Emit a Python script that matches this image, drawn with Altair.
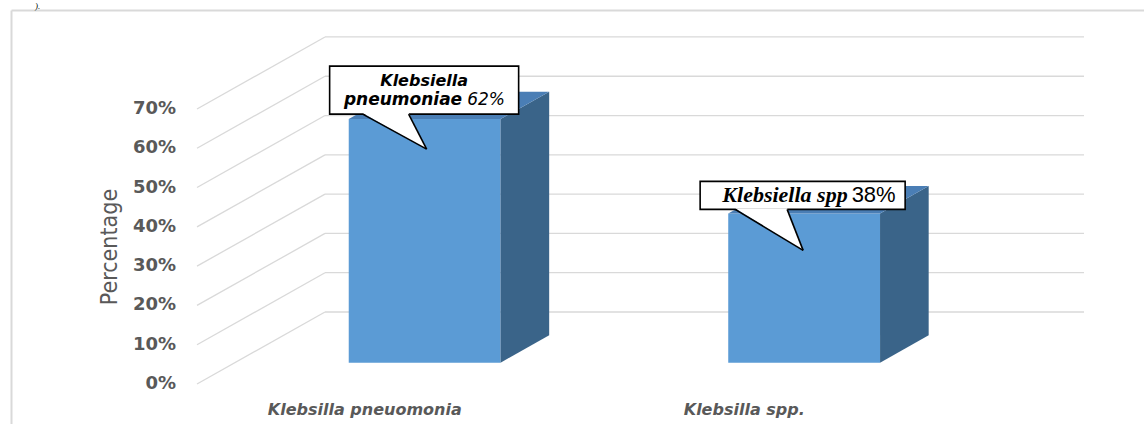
import altair as alt
import pandas as pd

# ---------------- data ----------------
categories = ["Klebsilla pneuomonia", "Klebsilla spp."]
values = [0.62, 0.38]
callout_bold_lines = [["Klebsiella", "pneumoniae"], ["Klebsiella spp"]]
callout_pct = ["62%", "38%"]
y_ticks = [0.0, 0.1, 0.2, 0.3, 0.4, 0.5, 0.6, 0.7]
y_tick_labels = ["0%", "10%", "20%", "30%", "40%", "50%", "60%", "70%"]
y_title = "Percentage"

# ---------------- layout / style ----------------
W, H = 1144, 424
FLOOR_W_PX = 759.0       # pixels per x unit (front floor edge width)
FLOOR_X0_PX = 197.0      # front-left corner of floor
ZERO_Y_PX = 384.0        # y pixel of 0% on the front plane
PX_PER_Y = 392.9         # pixels per 100%
DEPTH_PX = (128.0, 72.0) # full depth of the 3-D box (right, up)
F1, F2 = 0.296, 0.676    # bar front / back depth fractions
BAR_HALF = 0.10          # half bar width in x units

DX = DEPTH_PX[0] / FLOOR_W_PX
DY = DEPTH_PX[1] / PX_PER_Y

def px_x(p):   # pixel offset -> x units
    return p / FLOOR_W_PX

def px_y(p):   # downward pixel offset -> y units
    return -p / PX_PER_Y

xs = alt.Scale(domain=[-FLOOR_X0_PX / FLOOR_W_PX, (W - FLOOR_X0_PX) / FLOOR_W_PX], nice=False, zero=False)
ys = alt.Scale(domain=[(ZERO_Y_PX - H) / PX_PER_Y, ZERO_Y_PX / PX_PER_Y], nice=False, zero=False)

FRONT = "#5B9BD5"
SIDE = "#3A6489"
TOP = "#4A7EB5"
GRID = "#D9D9D9"
TEXT_GRAY = "#595959"

centers = [(i + 0.5) / len(categories) for i in range(len(categories))]

# ---------------- gridlines ----------------
grid_rows = []
for t in y_ticks:
    grid_rows.append({"x": 0.0, "x2": DX, "y": t, "y2": t + DY})          # side-wall diagonals
    grid_rows.append({"x": DX, "x2": 1.0 + DX, "y": t + DY, "y2": t + DY})  # back wall
grid = alt.Chart(pd.DataFrame(grid_rows)).mark_rule(color=GRID, strokeWidth=1.3).encode(
    x=alt.X("x:Q", scale=xs, axis=None), x2="x2:Q",
    y=alt.Y("y:Q", scale=ys, axis=None), y2="y2:Q")

# ---------------- bars (3-D) ----------------
front_rows, side_rows, top_rows = [], [], []
for i, (c, v) in enumerate(zip(categories, values)):
    u0, u1 = centers[i] - BAR_HALF, centers[i] + BAR_HALF
    front_rows.append({"bar": c, "x": u0 + F1 * DX, "x2": u1 + F1 * DX, "y": F1 * DY, "y2": v + F1 * DY})
    for f in (F1, F2):
        side_rows.append({"bar": c, "x": u1 + f * DX, "y": v + f * DY, "y2": f * DY})
        top_rows.append({"bar": c, "y": v + f * DY, "x": u0 + f * DX, "x2": u1 + f * DX})

front = alt.Chart(pd.DataFrame(front_rows)).mark_rect(color=FRONT).encode(
    x=alt.X("x:Q", scale=xs, axis=None), x2="x2:Q",
    y=alt.Y("y:Q", scale=ys, axis=None), y2="y2:Q")
side = alt.Chart(pd.DataFrame(side_rows)).mark_area(color=SIDE, orient="vertical").encode(
    x=alt.X("x:Q", scale=xs, axis=None),
    y=alt.Y("y:Q", scale=ys, axis=None), y2="y2:Q", detail="bar:N")
top = alt.Chart(pd.DataFrame(top_rows)).mark_area(color=TOP, orient="horizontal").encode(
    y=alt.Y("y:Q", scale=ys, axis=None),
    x=alt.X("x:Q", scale=xs, axis=None), x2="x2:Q", detail="bar:N")

# ---------------- callouts ----------------
# per-callout layout in pixels relative to the pointer tip
callout_layout = [
    {"tip_dx": 2, "tip_drop": 30, "box": (-97, 92, -83, -35), "base": (-64, -18)},
    {"tip_dx": -1, "tip_drop": 37, "box": (-103, 102, -69, -41), "base": (-68, -16)},
]
box_rows, tri_rows, edge_rows = [], [], []
tips = []
for i, (c, v) in enumerate(zip(categories, values)):
    L = callout_layout[i]
    tu = centers[i] + F1 * DX + px_x(L["tip_dx"])
    tv = v + F1 * DY + px_y(L["tip_drop"])
    tips.append((tu, tv))
    bx0, bx1, by0, by1 = L["box"]
    box_rows.append({"c": c, "x": tu + px_x(bx0), "x2": tu + px_x(bx1), "y": tv + px_y(by0), "y2": tv + px_y(by1)})
    a, b = L["base"]
    base_v = tv + px_y(by1)
    xa, xb = tu + px_x(a), tu + px_x(b)
    frac = (xb - xa) / (tu - xa)
    at_xb = base_v + (tv - base_v) * frac
    cover = px_y(-1.2)
    tri_rows += [
        {"c": c, "x": xa, "y": base_v + cover, "y2": base_v + cover},
        {"c": c, "x": xb, "y": base_v + cover, "y2": at_xb},
        {"c": c, "x": tu, "y": tv, "y2": tv},
    ]
    edge_rows += [
        {"x": xa, "y": base_v, "x2": tu, "y2": tv},
        {"x": xb, "y": base_v, "x2": tu, "y2": tv},
    ]

boxes = alt.Chart(pd.DataFrame(box_rows)).mark_rect(fill="white", stroke="black", strokeWidth=1.6).encode(
    x=alt.X("x:Q", scale=xs, axis=None), x2="x2:Q",
    y=alt.Y("y:Q", scale=ys, axis=None), y2="y2:Q")
tris = alt.Chart(pd.DataFrame(tri_rows)).mark_area(color="white", orient="vertical").encode(
    x=alt.X("x:Q", scale=xs, axis=None),
    y=alt.Y("y:Q", scale=ys, axis=None), y2="y2:Q", detail="c:N")
edges = alt.Chart(pd.DataFrame(edge_rows)).mark_rule(color="black", strokeWidth=1.6).encode(
    x=alt.X("x:Q", scale=xs, axis=None), x2="x2:Q",
    y=alt.Y("y:Q", scale=ys, axis=None), y2="y2:Q")

# callout texts
box_cx = [(r["x"] + r["x2"]) / 2 for r in box_rows]
t1 = alt.Chart(pd.DataFrame([
    {"x": box_cx[0], "y": tips[0][1] + px_y(-68), "t": callout_bold_lines[0][0]}])).mark_text(
    font="DejaVu Sans", fontWeight="bold", fontStyle="italic", fontSize=16, color="black",
    align="center", baseline="middle").encode(
    x=alt.X("x:Q", scale=xs, axis=None), y=alt.Y("y:Q", scale=ys, axis=None), text="t:N")
t1b = alt.Chart(pd.DataFrame([
    {"x": box_cx[0] + px_x(38), "y": tips[0][1] + px_y(-49), "t": callout_bold_lines[0][1]}])).mark_text(
    font="DejaVu Sans", fontWeight="bold", fontStyle="italic", fontSize=17, color="black",
    align="right", baseline="middle").encode(
    x=alt.X("x:Q", scale=xs, axis=None), y=alt.Y("y:Q", scale=ys, axis=None), text="t:N")
t1c = alt.Chart(pd.DataFrame([
    {"x": box_cx[0] + px_x(43), "y": tips[0][1] + px_y(-49), "t": callout_pct[0]}])).mark_text(
    font="DejaVu Sans", fontStyle="italic", fontSize=17, color="black",
    align="left", baseline="middle").encode(
    x=alt.X("x:Q", scale=xs, axis=None), y=alt.Y("y:Q", scale=ys, axis=None), text="t:N")
t2a = alt.Chart(pd.DataFrame([
    {"x": box_cx[1] + px_x(45), "y": tips[1][1] + px_y(-55), "t": callout_bold_lines[1][0]}])).mark_text(
    font="Liberation Serif", fontWeight="bold", fontStyle="italic", fontSize=22, color="black",
    align="right", baseline="middle").encode(
    x=alt.X("x:Q", scale=xs, axis=None), y=alt.Y("y:Q", scale=ys, axis=None), text="t:N")
t2b = alt.Chart(pd.DataFrame([
    {"x": box_cx[1] + px_x(49), "y": tips[1][1] + px_y(-55), "t": callout_pct[1]}])).mark_text(
    font="Liberation Sans", fontSize=22, color="black",
    align="left", baseline="middle").encode(
    x=alt.X("x:Q", scale=xs, axis=None), y=alt.Y("y:Q", scale=ys, axis=None), text="t:N")

# ---------------- axis texts ----------------
ytick = alt.Chart(pd.DataFrame({"v": y_ticks, "lab": y_tick_labels})).mark_text(
    font="DejaVu Sans", fontWeight="bold", fontSize=18, color=TEXT_GRAY, align="right", baseline="middle").encode(
    x=alt.value(176), y=alt.Y("v:Q", scale=ys, axis=None), text="lab:N")
ytitle = alt.Chart(pd.DataFrame({"t": [y_title]})).mark_text(
    font="Liberation Sans Narrow, DejaVu Sans Condensed, sans-serif", fontSize=23, color=TEXT_GRAY,
    angle=270, align="center", baseline="middle").encode(
    x=alt.value(110), y=alt.value(247), text="t:N")
xlab = alt.Chart(pd.DataFrame({"u": centers, "c": categories})).mark_text(
    font="DejaVu Sans", fontWeight="bold", fontStyle="italic", fontSize=16, color=TEXT_GRAY,
    align="center", baseline="middle", dx=-22).encode(
    x=alt.X("u:Q", scale=xs, axis=None), y=alt.value(410), text="c:N")

# ---------------- frame + page fragment ----------------
frame_v = alt.Chart(pd.DataFrame({"k": [0]})).mark_rule(color=GRID, strokeWidth=2).encode(
    x=alt.value(11.5), y=alt.value(10.5), y2=alt.value(H))
frame_h = alt.Chart(pd.DataFrame({"k": [0]})).mark_rule(color=GRID, strokeWidth=2).encode(
    x=alt.value(11.5), x2=alt.value(W), y=alt.value(10.5))
frag = alt.Chart(pd.DataFrame({"t": [")."]})).mark_text(
    font="Liberation Serif", fontStyle="italic", fontSize=9, color="black", align="left", baseline="alphabetic").encode(
    x=alt.value(35), y=alt.value(8.5), text="t:N")

chart = alt.layer(
    frame_v, frame_h, frag, grid, front, side, top, boxes, tris, edges,
    t1, t1b, t1c, t2a, t2b, ytick, ytitle, xlab
).properties(
    width=W, height=H, padding=0, autosize=alt.AutoSizeParams(type="none"),
    background="white"
).configure_view(stroke=None)

chart.save("out.html", embed_options={"renderer": "svg", "actions": False})
